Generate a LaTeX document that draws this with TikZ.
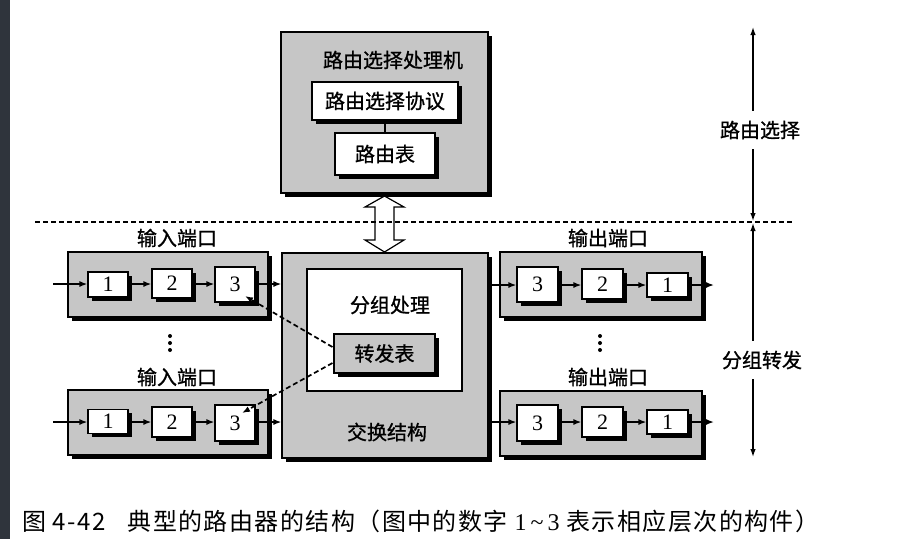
\documentclass[tikz,border=0pt]{standalone}
\usepackage{fontspec}
\setmainfont{Liberation Serif}
\newfontfamily\cjk[FakeBold=1]{Noto Sans CJK SC}
\newfontfamily\cjkcap[LetterSpace=6]{Noto Sans CJK SC}
\usetikzlibrary{arrows.meta,shadows,calc}
\definecolor{boxgray}{RGB}{198,198,198}
\definecolor{barcol}{RGB}{47,52,60}
\tikzset{
  shbox/.style={draw=black, line width=1.1pt, fill=#1,
    drop shadow={shadow xshift=3.5pt, shadow yshift=-3.5pt, fill=black, opacity=1},
    inner sep=0pt},
  shbox/.default=boxgray,
  numbox/.style={shbox=white, minimum width=40pt, font=\fontsize{22}{22}\selectfont},
  lbl/.style={font=\cjk\fontsize{20}{20}\selectfont, inner sep=1pt},
  flow/.style={-{Latex[length=8pt,width=6pt]}, line width=1.5pt},
  dflow/.style={-{Latex[length=8pt,width=6pt]}, line width=1.7pt, dash pattern=on 5pt off 3pt},
  axis/.style={{Latex[length=8pt,width=5.5pt]}-{Latex[length=8pt,width=5.5pt]}, line width=1.3pt},
}
\begin{document}
\begin{tikzpicture}[x=1pt,y=-1pt]
\useasboundingbox (0,0) rectangle (901,539);
\fill[barcol] (0,0) rectangle (10,539);

% routing processor
\node[shbox, minimum width=207pt, minimum height=161pt] (rp) at (384.5,112.5) {};
\node[lbl] (rpt) at (393,60) {路由选择处理机};
\node[shbox=white, minimum width=146pt, minimum height=38pt, lbl, inner sep=0pt] (proto) at (385,101) {路由选择协议};
\node[shbox=white, minimum width=100pt, minimum height=42pt, lbl, inner sep=0pt] (rt) at (385,154) {路由表};
\draw[line width=2pt] (proto.south) -- (rt.north);

% switching fabric
\node[shbox, minimum width=206pt, minimum height=205pt] (sw) at (385,355.5) {};
\node[draw=black, line width=1.1pt, fill=white, minimum width=155pt, minimum height=122pt] (pp) at (384.5,330) {};
\node[lbl] (ppt) at (390,305) {分组处理};
\node[shbox, minimum width=101pt, minimum height=39pt, lbl, inner sep=0pt] (ft) at (384.5,353.5) {转发表};
\node[lbl] (swt) at (387,432) {交换结构};

% hollow double arrow
\draw[line width=1.2pt, fill=white] (384.5,196) -- (404,207) -- (394,207) -- (394,240) -- (404,240)
  -- (384.5,252) -- (365,240) -- (375,240) -- (375,207) -- (365,207) -- cycle;

% dashed boundary
\draw[line width=1.5pt, dash pattern=on 5pt off 3pt] (35,222) -- (792,222);

% axis on the right
\coordinate (axTop) at (753,27);
\coordinate (axMid) at (753,222);
\coordinate (axBot) at (753,457);
\draw[axis] (axTop) -- ($(axMid)+(0,-1)$);
\draw[axis] ($(axMid)+(0,1)$) -- (axBot);
\node[lbl, fill=white, inner xsep=2pt, inner ysep=10pt] (lbA) at (760,130) {路由选择};
\node[lbl, fill=white, inner xsep=2pt, inner ysep=10pt] (lbB) at (762,360) {分组转发};

% input ports
\node[lbl] (inL1) at (177,238) {输入端口};
\node[shbox, minimum width=200pt, minimum height=65pt] (ipA) at (168,284.5) {};
\node[numbox, minimum height=25pt] (a1) at (108,284.5) {1};
\node[numbox, minimum height=29pt] (a2) at (172,283.5) {2};
\node[numbox, minimum height=35pt] (a3) at (235,284.5) {3};

\node[lbl] (inL2) at (177,377) {输入端口};
\node[shbox, minimum width=200pt, minimum height=65pt] (ipB) at (168,422.5) {};
\node[numbox, minimum height=24pt] (b1) at (108,421.5) {1};
\node[numbox, minimum height=30pt] (b2) at (172,422) {2};
\node[numbox, minimum height=36pt] (b3) at (235,423) {3};

\coordinate (inA) at (53,284);
\coordinate (inB) at (53,422);
\draw[flow] (inA) -- (inA -| a1.west);
\draw[flow] (a1.east |- inA) -- (inA -| a2.west);
\draw[flow] (a2.east |- inA) -- (inA -| a3.west);
\draw[flow] (a3.east |- inA) -- (inA -| sw.west);
\draw[flow] (inB) -- (inB -| b1.west);
\draw[flow] (b1.east |- inB) -- (inB -| b2.west);
\draw[flow] (b2.east |- inB) -- (inB -| b3.west);
\draw[flow] (b3.east |- inB) -- (inB -| sw.west);

% output ports
\node[lbl] (outL1) at (608,238) {输出端口};
\node[shbox, minimum width=202pt, minimum height=65pt] (opA) at (601,284.5) {};
\node[numbox, minimum width=41pt, minimum height=35pt] (c3) at (537.5,284.5) {3};
\node[numbox, minimum width=41pt, minimum height=30pt] (c2) at (602.5,284) {2};
\node[numbox, minimum width=41pt, minimum height=24pt] (c1) at (667.5,285) {1};

\node[lbl] (outL2) at (608,377) {输出端口};
\node[shbox, minimum width=202pt, minimum height=65pt] (opB) at (601,423.5) {};
\node[numbox, minimum width=41pt, minimum height=36pt] (d3) at (537.5,423) {3};
\node[numbox, minimum width=41pt, minimum height=30pt] (d2) at (602.5,422) {2};
\node[numbox, minimum width=41pt, minimum height=24pt] (d1) at (667.5,422) {1};

\coordinate (outA) at (714,285);
\coordinate (outB) at (714,422);
\draw[flow] (sw.east |- outA) -- (outA -| c3.west);
\draw[flow] (c3.east |- outA) -- (outA -| c2.west);
\draw[flow] (c2.east |- outA) -- (outA -| c1.west);
\draw[flow] (c1.east |- outA) -- (outA);
\draw[flow] (sw.east |- outB) -- (outB -| d3.west);
\draw[flow] (d3.east |- outB) -- (outB -| d2.west);
\draw[flow] (d2.east |- outB) -- (outB -| d1.west);
\draw[flow] (d1.east |- outB) -- (outB);

% vertical dots
\foreach \yy in {336,343,350} {
  \fill (170,\yy) circle[radius=2pt];
  \fill (600,\yy) circle[radius=2pt];
}

% dashed lookups
\draw[dflow] ($(ft.west)+(-1,-6.5)$) -- ($(a3.center)+(10,11.5)$);
\draw[dflow] ($(ft.west)+(-1,9.5)$) -- ($(b3.center)+(7,-10)$);

% caption
\node[anchor=west, inner sep=0pt, font=\fontsize{24}{24}\selectfont] (cap) at (22,521)
  {\cjkcap 图 4-42\hspace{22pt}典型的路由器的结构（图中的数字 {\rmfamily 1\,\textasciitilde\,3} 表示相应层次的构件）};
\end{tikzpicture}
\end{document}
